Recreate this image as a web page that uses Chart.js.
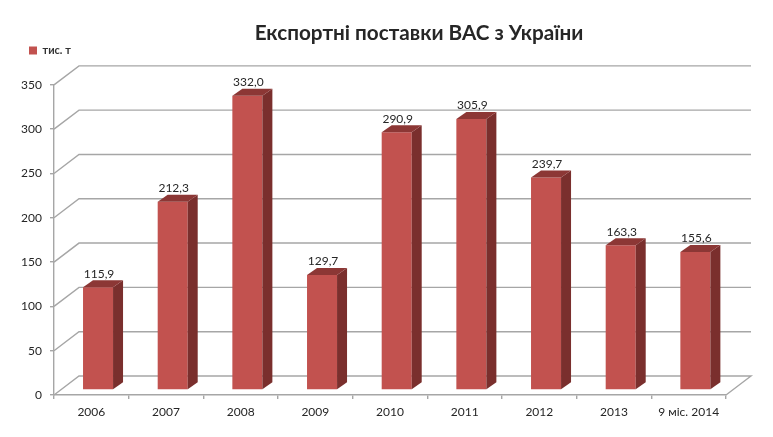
<!DOCTYPE html>
<html>
<head>
<meta charset="utf-8">
<script src="https://cdn.jsdelivr.net/npm/chart.js@4/dist/chart.umd.min.js"></script>
<style>
  html, body { margin: 0; padding: 0; background: #fff; }
  canvas { display: block; }
</style>
</head>
<body>
<canvas id="chart" width="773" height="437"></canvas>
<script>
var categories = ['2006', '2007', '2008', '2009', '2010', '2011', '2012', '2013', '9 міс. 2014'];
var exportValues = [115.9, 212.3, 332.0, 129.7, 290.9, 305.9, 239.7, 163.3, 155.6];
var valueLabels = ['115,9', '212,3', '332,0', '129,7', '290,9', '305,9', '239,7', '163,3', '155,6'];
var seriesName = 'тис. т';
var chartTitle = 'Експортні поставки ВАС з України';

var fontName = 'Lato, "Open Sans", sans-serif';
var gridColor = '#a6a6a6';

// offsets that fake the 3D look of the original
var wallDx = 25, wallDy = 19;
var barDx = 6.7, barDy = 5;
var sideDx = 10, sideDy = 7;

function face(ctx, pts, color) {
  ctx.fillStyle = color;
  ctx.beginPath();
  ctx.moveTo(pts[0][0], pts[0][1]);
  for (var i = 1; i < pts.length; i++) ctx.lineTo(pts[i][0], pts[i][1]);
  ctx.closePath();
  ctx.fill();
}

var fake3d = {
  id: 'fake3d',
  afterLayout: function (chart) {
    // title and legend sit off-centre in the original
    var t = chart.titleBlock, l = chart.legend;
    t.left = 105; t.right = 733; t.top = 21; t.bottom = 47;
    l.left = 25; l.right = 200; l.top = 41; l.bottom = 57;
  },
  beforeDatasetsDraw: function (chart) {
    var ctx = chart.ctx, y = chart.scales.y, a = chart.chartArea;
    ctx.save();
    ctx.strokeStyle = gridColor;
    ctx.lineWidth = 1.4;
    y.ticks.forEach(function (t) {
      var py = y.getPixelForValue(t.value);
      ctx.beginPath();
      ctx.moveTo(a.left, py);
      ctx.lineTo(a.left + wallDx, py - wallDy);
      ctx.lineTo(a.right + wallDx, py - wallDy);
      if (t.value === 0) ctx.lineTo(a.right, py);
      ctx.stroke();
    });
    ctx.restore();
    ctx.save();
    ctx.translate(barDx, -barDy);
  },
  afterDatasetsDraw: function (chart) {
    var ctx = chart.ctx;
    chart.getDatasetMeta(0).data.forEach(function (bar) {
      var l = bar.x - bar.width / 2, r = bar.x + bar.width / 2;
      face(ctx, [[r, bar.y], [r + sideDx, bar.y - sideDy], [r + sideDx, bar.base - sideDy], [r, bar.base]], '#7a2f2d');
      face(ctx, [[l, bar.y], [l + sideDx, bar.y - sideDy], [r + sideDx, bar.y - sideDy], [r, bar.y]], '#8c3735');
    });
    ctx.restore();
    ctx.save();
    ctx.font = '12px ' + fontName;
    ctx.fillStyle = '#262626';
    ctx.textAlign = 'center';
    ctx.textBaseline = 'middle';
    chart.getDatasetMeta(0).data.forEach(function (bar, i) {
      ctx.fillText(valueLabels[i], bar.x + barDx + 1, bar.y - barDy - 13.5);
    });
    ctx.restore();
  }
};

new Chart(document.getElementById('chart'), {
  type: 'bar',
  data: {
    labels: categories,
    datasets: [{
      label: seriesName,
      data: exportValues,
      backgroundColor: '#c2524f',
      barPercentage: 0.402,
      categoryPercentage: 1,
      clip: false
    }]
  },
  options: {
    responsive: false,
    animation: false,
    layout: { padding: { top: 35, right: 47, bottom: 0, left: 0 } },
    plugins: {
      tooltip: { enabled: false },
      title: {
        display: true,
        text: chartTitle,
        color: '#262626',
        padding: 0,
        font: { family: fontName, size: 20.7, weight: 'bold' }
      },
      legend: {
        display: true,
        position: 'top',
        align: 'start',
        labels: {
          boxWidth: 8,
          boxHeight: 8,
          padding: 4,
          color: '#333',
          font: { family: fontName, size: 11, weight: 'bold' }
        }
      }
    },
    scales: {
      x: {
        afterFit: function (s) { s.height = 42; },
        border: { color: gridColor, width: 1.4 },
        grid: { drawOnChartArea: false, color: gridColor, tickLength: 4, lineWidth: 1.4 },
        ticks: { color: '#262626', padding: 6, maxRotation: 0, autoSkip: false, font: { family: fontName, size: 12 } }
      },
      y: {
        min: 0,
        max: 350,
        afterFit: function (s) { s.width = 54; },
        border: { color: gridColor, width: 1.4 },
        grid: { drawOnChartArea: false, color: gridColor, tickLength: 4, lineWidth: 1.4 },
        ticks: { stepSize: 50, color: '#262626', padding: 8, font: { family: fontName, size: 12 } }
      }
    }
  },
  plugins: [fake3d]
});
</script>
</body>
</html>
